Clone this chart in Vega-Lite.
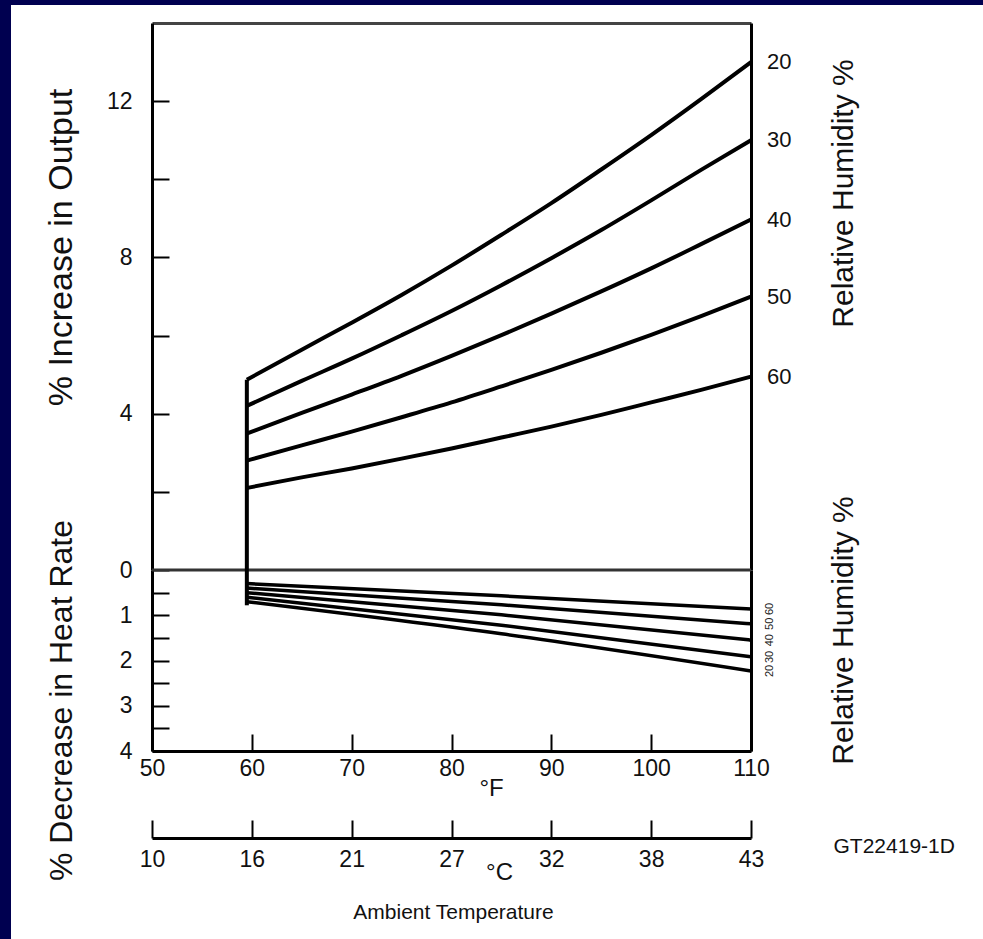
{
  "$schema": "https://vega.github.io/schema/vega-lite/v6.json",
  "width": 972,
  "height": 934,
  "autosize": "none",
  "padding": {"left": 11, "top": 5, "right": 0, "bottom": 0},
  "background": "#000050",
  "config": {
    "view": {"fill": "white", "stroke": null},
    "font": "Liberation Sans",
    "axis": {
      "grid": false,
      "domainColor": "#000",
      "domainWidth": 3,
      "tickColor": "#000",
      "tickWidth": 2,
      "labelColor": "#111",
      "labelFontSize": 23,
      "labelFont": "Liberation Sans",
      "labelOverlap": false,
      "labelFlush": false,
      "labelBound": false,
      "titleColor": "#111",
      "titleFont": "Liberation Sans",
      "titleFontWeight": "normal",
      "titlePadding": 0
    }
  },
  "datasets": {
    "upper": [
      {"RH": 20, "F": 59.5, "v": 4.87}, {"RH": 20, "F": 65, "v": 5.64}, {"RH": 20, "F": 70, "v": 6.33}, {"RH": 20, "F": 75, "v": 7.04}, {"RH": 20, "F": 80, "v": 7.79}, {"RH": 20, "F": 85, "v": 8.58}, {"RH": 20, "F": 90, "v": 9.39}, {"RH": 20, "F": 95, "v": 10.25}, {"RH": 20, "F": 100, "v": 11.13}, {"RH": 20, "F": 105, "v": 12.05}, {"RH": 20, "F": 110, "v": 13.0},
      {"RH": 30, "F": 59.5, "v": 4.2}, {"RH": 30, "F": 65, "v": 4.84}, {"RH": 30, "F": 70, "v": 5.41}, {"RH": 30, "F": 75, "v": 6.01}, {"RH": 30, "F": 80, "v": 6.63}, {"RH": 30, "F": 85, "v": 7.29}, {"RH": 30, "F": 90, "v": 7.98}, {"RH": 30, "F": 95, "v": 8.7}, {"RH": 30, "F": 100, "v": 9.46}, {"RH": 30, "F": 105, "v": 10.24}, {"RH": 30, "F": 110, "v": 11.0},
      {"RH": 40, "F": 59.5, "v": 3.49}, {"RH": 40, "F": 65, "v": 4.02}, {"RH": 40, "F": 70, "v": 4.49}, {"RH": 40, "F": 75, "v": 4.97}, {"RH": 40, "F": 80, "v": 5.48}, {"RH": 40, "F": 85, "v": 6.01}, {"RH": 40, "F": 90, "v": 6.56}, {"RH": 40, "F": 95, "v": 7.13}, {"RH": 40, "F": 100, "v": 7.72}, {"RH": 40, "F": 105, "v": 8.34}, {"RH": 40, "F": 110, "v": 8.97},
      {"RH": 50, "F": 59.5, "v": 2.8}, {"RH": 50, "F": 65, "v": 3.19}, {"RH": 50, "F": 70, "v": 3.54}, {"RH": 50, "F": 75, "v": 3.91}, {"RH": 50, "F": 80, "v": 4.29}, {"RH": 50, "F": 85, "v": 4.7}, {"RH": 50, "F": 90, "v": 5.12}, {"RH": 50, "F": 95, "v": 5.56}, {"RH": 50, "F": 100, "v": 6.02}, {"RH": 50, "F": 105, "v": 6.5}, {"RH": 50, "F": 110, "v": 7.0},
      {"RH": 60, "F": 59.5, "v": 2.1}, {"RH": 60, "F": 65, "v": 2.37}, {"RH": 60, "F": 70, "v": 2.6}, {"RH": 60, "F": 75, "v": 2.85}, {"RH": 60, "F": 80, "v": 3.11}, {"RH": 60, "F": 85, "v": 3.39}, {"RH": 60, "F": 90, "v": 3.67}, {"RH": 60, "F": 95, "v": 3.97}, {"RH": 60, "F": 100, "v": 4.29}, {"RH": 60, "F": 105, "v": 4.61}, {"RH": 60, "F": 110, "v": 4.95}
    ],
    "lower": [
      {"RH": 60, "F": 59.5, "v": 0.3}, {"RH": 60, "F": 85, "v": 0.57}, {"RH": 60, "F": 110, "v": 0.86},
      {"RH": 50, "F": 59.5, "v": 0.4}, {"RH": 50, "F": 85, "v": 0.77}, {"RH": 50, "F": 110, "v": 1.19},
      {"RH": 40, "F": 59.5, "v": 0.5}, {"RH": 40, "F": 85, "v": 0.99}, {"RH": 40, "F": 110, "v": 1.55},
      {"RH": 30, "F": 59.5, "v": 0.6}, {"RH": 30, "F": 85, "v": 1.22}, {"RH": 30, "F": 110, "v": 1.92},
      {"RH": 20, "F": 59.5, "v": 0.7}, {"RH": 20, "F": 85, "v": 1.41}, {"RH": 20, "F": 110, "v": 2.23}
    ],
    "zeroLine": [{"F": 50, "F2": 110, "v": 0}],
    "stemUpper": [{"F": 59.5, "from": 0, "to": 4.87}],
    "stemLower": [{"F": 59.5, "from": 0, "to": 0.78}]
  },
  "layer": [
    {
      "data": {"name": "upper"},
      "mark": {"type": "line", "stroke": "#000", "strokeWidth": 4, "interpolate": "monotone"},
      "encoding": {
        "x": {
          "field": "F", "type": "quantitative",
          "scale": {"domain": [50, 110], "range": [141, 740], "nice": false, "zero": false},
          "axis": {
            "orient": "bottom", "offset": -188,
            "values": [50, 60, 70, 80, 90, 100, 110],
            "tickSize": -17, "labelPadding": 23,
            "title": "°F", "titleX": 480, "titleY": 37,
            "titleAlign": "center", "titleBaseline": "middle", "titleFontSize": 24
          }
        },
        "y": {
          "field": "v", "type": "quantitative",
          "scale": {"domain": [0, 14], "range": [565, 18], "nice": false, "zero": false},
          "axis": {
            "orient": "left", "offset": -141,
            "values": [0, 2, 4, 6, 8, 10, 12],
            "labelExpr": "datum.value % 4 === 0 ? datum.label : ''",
            "tickSize": -17, "labelPadding": 37,
            "title": "% Increase in Output", "titleAngle": 270,
            "titleX": -91, "titleY": 242,
            "titleAlign": "center", "titleBaseline": "middle", "titleFontSize": 34
          }
        },
        "detail": {"field": "RH"}
      }
    },
    {
      "data": {"name": "zeroLine"},
      "mark": {"type": "rule", "stroke": "#333", "strokeWidth": 3},
      "encoding": {
        "x": {"field": "F", "type": "quantitative", "scale": {"domain": [50, 110], "range": [141, 740], "nice": false, "zero": false}, "axis": null},
        "x2": {"field": "F2"},
        "y": {"field": "v", "type": "quantitative", "scale": {"domain": [0, 14], "range": [565, 18], "nice": false, "zero": false}, "axis": null}
      }
    },
    {
      "data": {"name": "stemUpper"},
      "mark": {"type": "rule", "stroke": "#000", "strokeWidth": 4},
      "encoding": {
        "x": {"field": "F", "type": "quantitative", "scale": {"domain": [50, 110], "range": [141, 740], "nice": false, "zero": false}, "axis": null},
        "y": {"field": "from", "type": "quantitative", "scale": {"domain": [0, 14], "range": [565, 18], "nice": false, "zero": false}, "axis": null},
        "y2": {"field": "to"}
      }
    },
    {
      "data": {"name": "lower"},
      "mark": {"type": "line", "stroke": "#000", "strokeWidth": 3.5, "interpolate": "monotone"},
      "encoding": {
        "x": {
          "field": "F", "type": "quantitative",
          "scale": {"domain": [50, 110], "range": [141, 740], "nice": false, "zero": false},
          "axis": {
            "orient": "bottom", "offset": -101,
            "values": [50, 60, 70, 80, 90, 100, 110],
            "labelExpr": "format((datum.value - 32) * 5 / 9, '.0f')",
            "tickSize": -18, "labelPadding": 28,
            "title": "°C", "titleX": 488, "titleY": 34,
            "titleAlign": "center", "titleBaseline": "middle", "titleFontSize": 24
          }
        },
        "y": {
          "field": "v", "type": "quantitative",
          "scale": {"domain": [0, 4], "range": [565, 746], "nice": false, "zero": false},
          "axis": {
            "orient": "left", "offset": -141,
            "values": [0.5, 1, 1.5, 2, 2.5, 3, 3.5, 4],
            "labelExpr": "datum.value % 1 === 0 ? format(datum.value, 'd') : ''",
            "tickSize": -17, "labelPadding": 37,
            "title": "% Decrease in Heat Rate", "titleAngle": 270,
            "titleX": -91, "titleY": 695,
            "titleAlign": "center", "titleBaseline": "middle", "titleFontSize": 32
          }
        },
        "detail": {"field": "RH"}
      }
    },
    {
      "data": {"name": "stemLower"},
      "mark": {"type": "rule", "stroke": "#000", "strokeWidth": 4},
      "encoding": {
        "x": {"field": "F", "type": "quantitative", "scale": {"domain": [50, 110], "range": [141, 740], "nice": false, "zero": false}, "axis": null},
        "y": {"field": "from", "type": "quantitative", "scale": {"domain": [0, 4], "range": [565, 746], "nice": false, "zero": false}, "axis": null},
        "y2": {"field": "to"}
      }
    },
    {
      "data": {"name": "upper"},
      "transform": [{"filter": "datum.F === 110"}],
      "mark": {"type": "text", "align": "left", "baseline": "middle", "dx": 16, "fontSize": 22, "color": "#111", "font": "Liberation Sans"},
      "encoding": {
        "x": {
          "field": "F", "type": "quantitative",
          "scale": {"domain": [50, 110], "range": [141, 740], "nice": false, "zero": false},
          "axis": {
            "orient": "top", "offset": -18,
            "ticks": false, "labels": false, "domainColor": "#444",
            "title": "GT22419-1D", "titleX": 822, "titleY": 823,
            "titleAlign": "left", "titleBaseline": "middle", "titleFontSize": 21
          }
        },
        "y": {
          "field": "v", "type": "quantitative",
          "scale": {"domain": [0, 14], "range": [565, 18], "nice": false, "zero": false},
          "axis": {
            "orient": "right", "offset": -232,
            "ticks": false, "labels": false,
            "title": "Relative Humidity %", "titleAngle": 270,
            "titleX": 92, "titleY": 188,
            "titleAlign": "center", "titleBaseline": "middle", "titleFontSize": 30
          }
        },
        "text": {"field": "RH", "type": "quantitative", "format": "d"}
      }
    },
    {
      "data": {"name": "lower"},
      "transform": [{"filter": "datum.F === 110"}],
      "mark": {"type": "text", "align": "center", "baseline": "middle", "angle": 270, "radius": 19, "theta": 1.5708, "fontSize": 11, "color": "#222", "font": "Liberation Sans"},
      "encoding": {
        "x": {
          "field": "F", "type": "quantitative",
          "scale": {"domain": [50, 110], "range": [141, 740], "nice": false, "zero": false},
          "axis": {
            "orient": "bottom", "offset": -188,
            "domain": false, "ticks": false, "labels": false,
            "title": "Ambient Temperature", "titleX": 442, "titleY": 161,
            "titleAlign": "center", "titleBaseline": "middle", "titleFontSize": 21
          }
        },
        "y": {
          "field": "v", "type": "quantitative",
          "scale": {"domain": [0, 4], "range": [565, 746], "nice": false, "zero": false},
          "axis": {
            "orient": "right", "offset": -232,
            "ticks": false, "labels": false,
            "title": "Relative Humidity %", "titleAngle": 270,
            "titleX": 92, "titleY": 625,
            "titleAlign": "center", "titleBaseline": "middle", "titleFontSize": 30
          }
        },
        "text": {"field": "RH", "type": "quantitative", "format": "d"}
      }
    }
  ],
  "resolve": {
    "scale": {"y": "independent"},
    "axis": {"x": "independent", "y": "independent"}
  }
}
